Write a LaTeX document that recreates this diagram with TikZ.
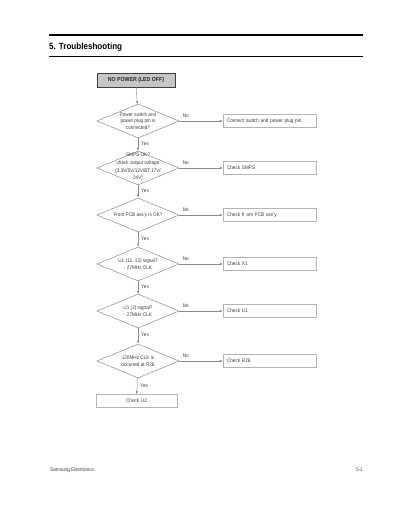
\documentclass[tikz,border=0pt]{standalone}
\usepackage{fontspec}
\setmainfont{Liberation Sans}[FakeStretch=0.9]
\usetikzlibrary{shapes.geometric,arrows.meta}
\definecolor{ln}{HTML}{8A8A8A}
\definecolor{bx}{HTML}{B4B4B4}
\definecolor{tx}{HTML}{3A3A3A}
\begin{document}
\begin{tikzpicture}[x=1bp,y=-1bp,
  small/.style={font=\fontsize{5.2}{6.6}\selectfont, text=tx, inner sep=0},
  dia/.style={draw=ln, line width=0.5bp, diamond, minimum width=82bp, minimum height=34bp, inner sep=0},
  dtext/.style={small, align=center},
  chk/.style={draw=bx, line width=0.5bp, minimum width=93bp, minimum height=13bp, text width=85bp, align=left, inner sep=0, small},
  startbox/.style={draw=black!75, line width=0.9bp, fill=gray!45, minimum width=78bp, minimum height=14bp, inner sep=0, font=\fontsize{5.8}{6.5}\selectfont\bfseries, text=black!85},
  arr/.style={draw=ln, line width=0.45bp, -{Latex[length=3bp,width=2.4bp]}},
  lbl/.style={small, inner sep=0}
]
\useasboundingbox (0,0) rectangle (400,518);
% header
\draw[line width=2bp, black] (49,35.5) -- (363,35.5);
\draw[line width=0.8bp, black] (49,56) -- (363,56);
\node[anchor=base west, inner sep=0, font=\fontsize{9}{10}\selectfont\bfseries] (head) at (49,49.5) {5. Troubleshooting};
% start
\node[startbox] (s) at (136,80) {NO POWER (LED OFF)};
% diamonds
\node[dia] (d1) at (138,121) {};
\node[dtext] at (138,121) {Power switch and\\power plug pin is\\connected?};
\node[dia] (d2) at (138,168) {};
\node[dtext, font=\fontsize{5.2}{7.6}\selectfont] at (138,167) {SMPS OK?\\check output voltage\\(3.3V/5V/12V/BT,17V/\\24V)};
\node[dia] (d3) at (138,215) {};
\node[dtext] at (138,215) {Front PCB ass'y is OK?};
\node[dia] (d4) at (138,264) {};
\node[dtext] at (138,264) {U1 (12, 13) signal?\\: 27MHz CLK};
\node[dia] (d5) at (138,311) {};
\node[dtext] at (138,311) {U1 (2) signal?\\: 27MHz CLK};
\node[dia] (d6) at (138,361) {};
\node[dtext] at (138,361) {120MHz CLK is\\occurred at R26};
% right boxes
\node[chk] (c1) at (269.5,121) {Connect switch and power plug pin.};
\node[chk] (c2) at (269.5,168) {Check SMPS};
\node[chk] (c3) at (269.5,215) {Check fr ont PCB ass'y.};
\node[chk] (c4) at (269.5,264) {Check X1};
\node[chk] (c5) at (269.5,311) {Check U1};
\node[chk] (c6) at (269.5,361) {Check R26};
\node[chk, minimum width=81bp, text width=75bp, align=center] (u2) at (136.5,401) {Check U2};
% vertical arrows
\draw[arr] (s) -- (d1);
\draw[arr] (d1) -- node[lbl, right=3bp, pos=0.45]{Yes} (d2);
\draw[arr] (d2) -- node[lbl, right=3bp, pos=0.45]{Yes} (d3);
\draw[arr] (d3) -- node[lbl, right=3bp, pos=0.45]{Yes} (d4);
\draw[arr] (d4) -- node[lbl, right=3bp, pos=0.45]{Yes} (d5);
\draw[arr] (d5) -- node[lbl, right=3bp, pos=0.45]{Yes} (d6);
\draw[arr] (d6) -- node[lbl, right=3bp, pos=0.45]{Yes} (u2);
% horizontal arrows
\foreach \i in {1,...,6}{
  \draw[arr] (d\i) -- node[lbl, above=3bp, pos=0.15]{No} (c\i);
}
% footer
\node[anchor=base west, small] (f1) at (50,471) {Samsung Electronics};
\node[anchor=base east, small] (f2) at (363,471) {5-1};
\end{tikzpicture}
\end{document}
